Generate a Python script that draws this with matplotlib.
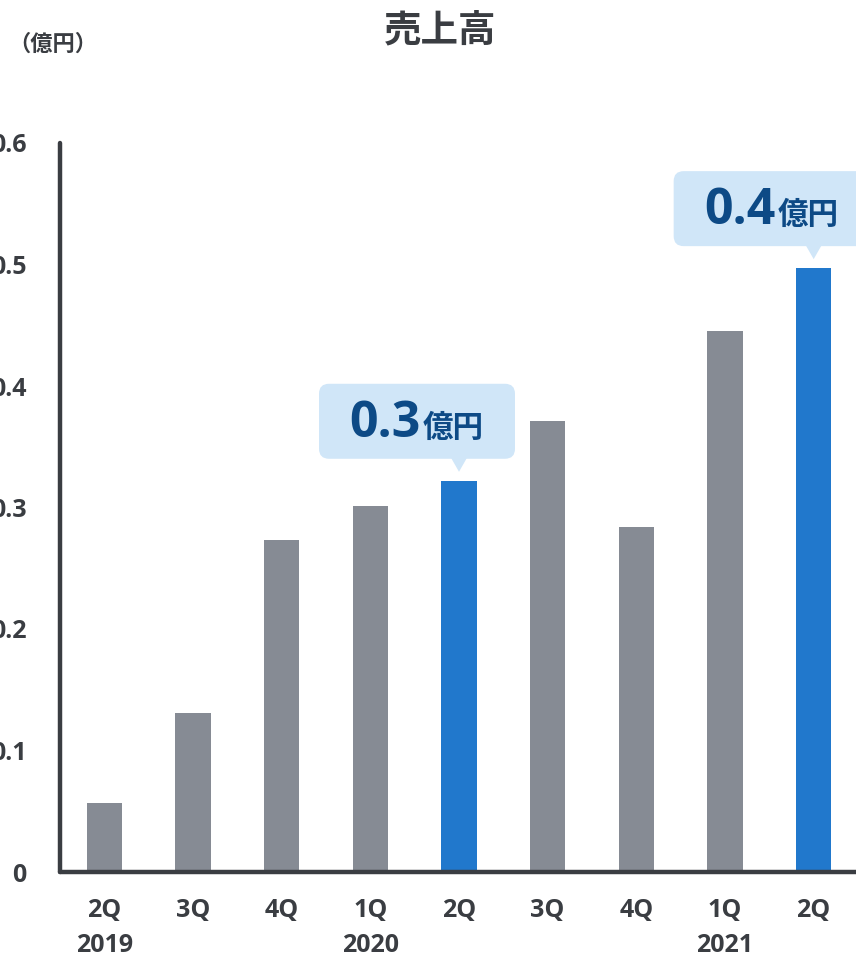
import matplotlib.pyplot as plt
import matplotlib.transforms as mtransforms
from matplotlib.patches import FancyBboxPatch, Polygon

plt.rcParams['font.family'] = ['Open Sans', 'Noto Sans CJK JP', 'DejaVu Sans']
plt.rcParams['font.weight'] = 'bold'

quarters = ['2Q', '3Q', '4Q', '1Q', '2Q', '3Q', '4Q', '1Q', '2Q']
years = {0: '2019', 3: '2020', 7: '2021'}
sales = [0.057, 0.131, 0.273, 0.301, 0.322, 0.371, 0.284, 0.445, 0.497]
highlight = [4, 8]
callouts = {4: '0.3', 8: '0.4'}
yticks = [0, 0.1, 0.2, 0.3, 0.4, 0.5, 0.6]
ytick_labels = ['0', '0.1', '0.2', '0.3', '0.4', '0.5', '0.6']

dark = '#3a3d42'
gray = '#868b94'
blue = '#2178cc'
light = '#d0e6f8'
navy = '#0d4a86'

W, H = 856, 957
fig = plt.figure(figsize=(W / 100, H / 100), dpi=100)
ax = fig.add_axes([60 / W, (H - 872) / H, 798 / W, (872 - 143) / H])

colors = [blue if i in highlight else gray for i in range(len(sales))]
ax.bar(range(len(sales)), sales, width=0.4, color=colors, zorder=2)

ax.set_xlim(-0.5, 8.5)
ax.set_ylim(0, 0.6)
ax.set_yticks(yticks)
ax.set_yticklabels(ytick_labels)
ax.set_xticks(range(len(quarters)))
ax.set_xticklabels(quarters)
ax.tick_params(length=0, labelsize=18, colors=dark)
ax.tick_params(axis='y', pad=24)
ax.tick_params(axis='x', pad=19)
for lab in ax.get_xticklabels() + ax.get_yticklabels():
    lab.set_fontweight('bold')

for s in ['top', 'right']:
    ax.spines[s].set_visible(False)
for s in ['left', 'bottom']:
    ax.spines[s].set_color(dark)
    ax.spines[s].set_linewidth(3.2)
    ax.spines[s].set_capstyle('round')

for i, y in years.items():
    ax.annotate(y, xy=(i, 0), xycoords=('data', 'axes fraction'),
                xytext=(0, -(933 - 872)), textcoords='offset pixels',
                ha='center', va='top', fontsize=18, fontweight='bold', color=dark)

fig.text(440 / W, 1 - 30 / H, '売上高', ha='center', va='center',
         fontsize=27, fontweight='bold', color=dark, family=['Noto Sans CJK JP'])
fig.text(8 / W, 1 - 44 / H, '（億円）', ha='left', va='center',
         fontsize=16, fontweight='bold', color=dark, family=['Noto Sans CJK JP'])

ident = mtransforms.IdentityTransform()
for i, label in callouts.items():
    px, py = ax.transData.transform((i, sales[i]))
    tip_y = py + 9
    box_bot = py + 22
    box_h = 75
    box_w = 196
    box_l = px - 140
    box = FancyBboxPatch((box_l, box_bot), box_w, box_h,
                         boxstyle='round,pad=0,rounding_size=10',
                         transform=ident, facecolor=light, edgecolor='none')
    fig.add_artist(box)
    tri = Polygon([(px - 8, box_bot + 1), (px + 8, box_bot + 1), (px, tip_y)],
                  closed=True, transform=ident, facecolor=light, edgecolor='none')
    fig.add_artist(tri)
    cx = box_l + box_w / 2
    base = box_bot + 22
    fig.text(cx + 4, base, label, ha='right', va='baseline', transform=ident,
             fontsize=36, fontweight='bold', color=navy)
    fig.text(cx + 6, base, '億円', ha='left', va='baseline', transform=ident,
             fontsize=22, fontweight='bold', color=navy, family=['Noto Sans CJK JP'])

fig.savefig('out.png', dpi=100)
